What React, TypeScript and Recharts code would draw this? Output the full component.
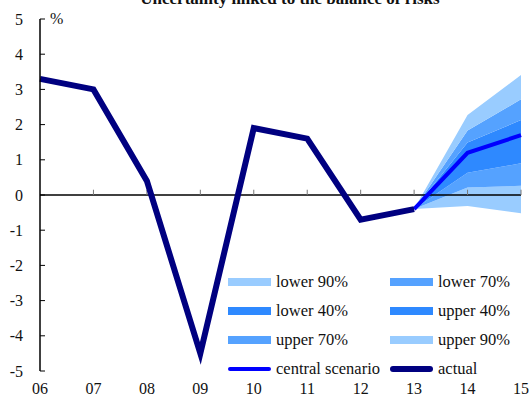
import React from 'react'
import {
  ComposedChart,
  XAxis,
  YAxis,
  Area,
  Line,
  ReferenceLine,
} from 'recharts'

const years = ['06', '07', '08', '09', '10', '11', '12', '13', '14', '15']
const actual = [3.3, 3.0, 0.4, -4.5, 1.9, 1.6, -0.7, -0.4, null, null]
const central = [null, null, null, null, null, null, null, -0.4, 1.2, 1.7]
const bottom90 = [null, null, null, null, null, null, null, -0.4, -0.31, -0.52]
const bottom70 = [null, null, null, null, null, null, null, -0.4, 0.21, 0.26]
const bottom40 = [null, null, null, null, null, null, null, -0.4, 0.63, 0.9]
const top40 = [null, null, null, null, null, null, null, -0.4, 1.49, 2.13]
const top70 = [null, null, null, null, null, null, null, -0.4, 1.83, 2.72]
const top90 = [null, null, null, null, null, null, null, -0.4, 2.27, 3.41]
const yTicks = [5, 4, 3, 2, 1, 0, -1, -2, -3, -4, -5]

const pair = (a: (number | null)[], b: (number | null)[], i: number) =>
  a[i] == null || b[i] == null ? null : [a[i], b[i]]

const data = years.map((year, i) => ({
  year,
  actual: actual[i],
  central: central[i],
  lower90: pair(bottom90, bottom70, i),
  lower70: pair(bottom70, bottom40, i),
  lower40: pair(bottom40, central, i),
  upper40: pair(central, top40, i),
  upper70: pair(top40, top70, i),
  upper90: pair(top70, top90, i),
}))

const LIGHT = '#99CCFF'
const MID = '#55A2FF'
const DARK = '#2E89FF'

const legendItems = [
  { label: 'lower 90%', color: LIGHT, kind: 'box' },
  { label: 'lower 70%', color: MID, kind: 'box' },
  { label: 'lower 40%', color: DARK, kind: 'box' },
  { label: 'upper 40%', color: DARK, kind: 'box' },
  { label: 'upper 70%', color: MID, kind: 'box' },
  { label: 'upper 90%', color: LIGHT, kind: 'box' },
  { label: 'central scenario', color: '#0000FF', kind: 'line' },
  { label: 'actual', color: '#000080', kind: 'line' },
]

const font = '"Liberation Serif", "Times New Roman", serif'

function FanLegend() {
  return (
    <div
      style={{
        position: 'absolute',
        left: 228,
        top: 271,
        display: 'grid',
        gridTemplateColumns: '162px 120px',
        rowGap: 8,
        fontFamily: font,
        fontSize: 16.5,
        color: '#111',
        lineHeight: '21px',
      }}
    >
      {legendItems.map((it) => (
        <div
          key={it.label}
          style={{ display: 'flex', alignItems: 'center', height: 21 }}
        >
          <span
            style={{
              display: 'inline-block',
              width: 43,
              height: it.kind === 'box' ? 8 : it.label === 'actual' ? 6 : 4,
              borderRadius: it.kind === 'line' ? 3 : 0,
              background: it.color,
              marginRight: 5,
            }}
          />
          {it.label}
        </div>
      ))}
    </div>
  )
}

export default function App() {
  return (
    <div style={{ position: 'absolute', left: 0, top: 0, background: '#fff' }}>
      <ComposedChart
        width={532}
        height={401}
        data={data}
        margin={{ top: 19, right: 11, bottom: 0, left: 0 }}
      >
        <text
          x={290}
          y={4}
          textAnchor="middle"
          fontFamily={font}
          fontWeight="bold"
          fontSize={17}
          fill="#111"
        >
          Uncertainty linked to the balance of risks
        </text>
        <text x={50} y={24} fontFamily={font} fontSize={16} fill="#111">
          %
        </text>
        <XAxis
          dataKey="year"
          height={30}
          axisLine={false}
          tickLine={false}
          tickSize={0}
          tickMargin={12}
          interval={0}
          padding={{ left: 0, right: 0 }}
          tick={{ fontFamily: font, fontSize: 16, fill: '#111' }}
        />
        <YAxis
          width={40}
          domain={[-5, 5]}
          ticks={yTicks}
          interval={0}
          tickSize={-5}
          tickMargin={22}
          axisLine={{ stroke: '#000', strokeWidth: 1.5 }}
          tickLine={{ stroke: '#000' }}
          tick={{ fontFamily: font, fontSize: 16, fill: '#111' }}
        />
        <Area dataKey="lower90" stroke="none" fill={LIGHT} fillOpacity={1} isAnimationActive={false} />
        <Area dataKey="lower70" stroke="none" fill={MID} fillOpacity={1} isAnimationActive={false} />
        <Area dataKey="lower40" stroke="none" fill={DARK} fillOpacity={1} isAnimationActive={false} />
        <Area dataKey="upper40" stroke="none" fill={DARK} fillOpacity={1} isAnimationActive={false} />
        <Area dataKey="upper70" stroke="none" fill={MID} fillOpacity={1} isAnimationActive={false} />
        <Area dataKey="upper90" stroke="none" fill={LIGHT} fillOpacity={1} isAnimationActive={false} />
        <ReferenceLine y={0} stroke="#000" strokeWidth={1.5} />
        {years.slice(1).map((y) => (
          <ReferenceLine
            key={y}
            segment={[
              { x: y, y: 0 },
              { x: y, y: 0.15 },
            ]}
            stroke="#777"
          />
        ))}
        <Line
          dataKey="central"
          stroke="#0000FF"
          strokeWidth={4}
          dot={false}
          isAnimationActive={false}
        />
        <Line
          dataKey="actual"
          stroke="#000080"
          strokeWidth={6}
          dot={false}
          isAnimationActive={false}
        />
      </ComposedChart>
      <FanLegend />
    </div>
  )
}
